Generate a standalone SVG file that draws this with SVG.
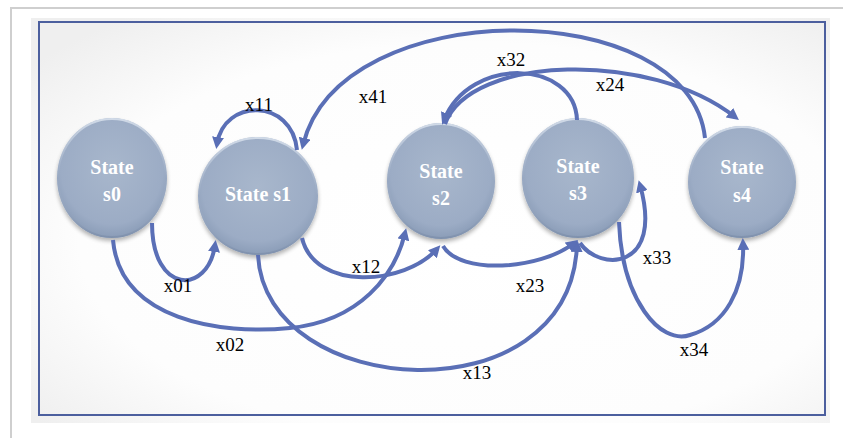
<svg xmlns="http://www.w3.org/2000/svg" width="843" height="438" viewBox="0 0 843 438">
  <defs>
    <radialGradient id="panelGrad" cx="55%" cy="55%" r="70%">
      <stop offset="0" stop-color="#ffffff"/>
      <stop offset="0.7" stop-color="#fdfdfd"/>
      <stop offset="1" stop-color="#efefef"/>
    </radialGradient>
    <radialGradient id="nodeGrad" cx="50%" cy="42%" r="58%">
      <stop offset="0" stop-color="#a8b7cc"/>
      <stop offset="0.8" stop-color="#9cacc5"/>
      <stop offset="1" stop-color="#8a9cb7"/>
    </radialGradient>
    <linearGradient id="rimGrad" x1="0" y1="0" x2="0" y2="1">
      <stop offset="0" stop-color="#d6dfeb" stop-opacity="0.9"/>
      <stop offset="0.5" stop-color="#c0cbdb" stop-opacity="0"/>
      <stop offset="1" stop-color="#7486a3" stop-opacity="0.5"/>
    </linearGradient>
    <filter id="shadow" x="-20%" y="-20%" width="140%" height="150%">
      <feGaussianBlur in="SourceAlpha" stdDeviation="2.2"/>
      <feOffset dx="0" dy="3" result="b"/>
      <feComponentTransfer><feFuncA type="linear" slope="0.3"/></feComponentTransfer>
      <feMerge><feMergeNode/><feMergeNode in="SourceGraphic"/></feMerge>
    </filter>
    <marker id="ah" viewBox="0 0 12 12" markerWidth="12" markerHeight="12" refX="7" refY="6" orient="auto" markerUnits="userSpaceOnUse">
      <path d="M0,0 L12,6 L0,12 z" fill="#5a6fb6"/>
    </marker>
  </defs>
  <style>
    .edge { fill: none; stroke: #5a6fb6; stroke-width: 4; }
    .arr { marker-end: url(#ah); }
    .node { fill: url(#nodeGrad); filter: url(#shadow); }
    .rim { fill: none; stroke: url(#rimGrad); stroke-width: 2; }
    .ntext { font-family: "Liberation Serif", "DejaVu Serif", serif; font-weight: bold; font-size: 20px; fill: #ffffff; text-anchor: middle; }
    .elabel { font-family: "Liberation Serif", "DejaVu Serif", serif; font-size: 19px; fill: #000000; text-anchor: middle; }
  </style>

  <!-- page frame -->
  <rect x="0" y="0" width="843" height="438" fill="#ffffff"/>
  <path d="M11,438 L11,8 L843,8" fill="none" stroke="#cfcfcf" stroke-width="2"/>

  <!-- panel -->
  <rect x="31" y="18" width="799" height="405" fill="url(#panelGrad)"/>
  <rect x="39" y="22" width="786" height="393" fill="none" stroke="#4c5f9e" stroke-width="2"/>

  <!-- states -->
  <g id="s0">
    <ellipse class="node" cx="112" cy="178" rx="55" ry="60"/>
    <ellipse class="rim" cx="112" cy="178" rx="54" ry="59"/>
    <text class="ntext" x="112" y="174">State</text>
    <text class="ntext" x="112" y="201">s0</text>
  </g>
  <g id="s1">
    <ellipse class="node" cx="258" cy="196" rx="60" ry="59"/>
    <ellipse class="rim" cx="258" cy="196" rx="59" ry="58"/>
    <text class="ntext" x="258" y="201">State s1</text>
  </g>
  <g id="s2">
    <ellipse class="node" cx="441" cy="181" rx="54" ry="58"/>
    <ellipse class="rim" cx="441" cy="181" rx="53" ry="57"/>
    <text class="ntext" x="441" y="178">State</text>
    <text class="ntext" x="441" y="205">s2</text>
  </g>
  <g id="s3">
    <ellipse class="node" cx="578" cy="178" rx="56" ry="60"/>
    <ellipse class="rim" cx="578" cy="178" rx="55" ry="59"/>
    <text class="ntext" x="578" y="173">State</text>
    <text class="ntext" x="578" y="200">s3</text>
  </g>
  <g id="s4">
    <ellipse class="node" cx="742" cy="182" rx="54" ry="56"/>
    <ellipse class="rim" cx="742" cy="182" rx="53" ry="55"/>
    <text class="ntext" x="742" y="174">State</text>
    <text class="ntext" x="742" y="202">s4</text>
  </g>

  <!-- transitions -->
  <g id="connectors">
    <path class="edge arr" d="M297,150 C 292,98 224,98 217,144"/>
    <path class="edge arr" d="M705,138 C 690,-5 340,-8 303,145"/>
    <path class="edge arr" d="M577,120 C 575,60 470,55 444,120"/>
    <path class="edge arr" d="M445,124 C 470,55 650,50 735,117"/>
    <path class="edge arr" d="M152,223 C 152,295 208,295 215,245"/>
    <path class="edge arr" d="M113,240 C 120,320 220,335 290,328 C 360,321 395,275 405,233"/>
    <path class="edge arr" d="M302,238 C 315,292 405,285 437,249"/>
    <path class="edge arr" d="M258,255 C 265,400 570,420 577,245"/>
    <path class="edge arr" d="M443,246 C 460,275 540,270 574,243"/>
    <path class="edge arr" d="M580,243 C 600,272 664,270 640,185"/>
    <path class="edge arr" d="M619,222 C 622,300 660,345 690,335 C 725,325 745,290 743,243"/>
  </g>

  <!-- transition labels -->
  <g id="labels">
    <text class="elabel" x="259" y="111">x11</text>
    <text class="elabel" x="373" y="103">x41</text>
    <text class="elabel" x="511" y="66">x32</text>
    <text class="elabel" x="610" y="91">x24</text>
    <text class="elabel" x="178" y="292">x01</text>
    <text class="elabel" x="230" y="351">x02</text>
    <text class="elabel" x="366" y="273">x12</text>
    <text class="elabel" x="530" y="292">x23</text>
    <text class="elabel" x="477" y="379">x13</text>
    <text class="elabel" x="657" y="264">x33</text>
    <text class="elabel" x="694" y="356">x34</text>
  </g>
</svg>
